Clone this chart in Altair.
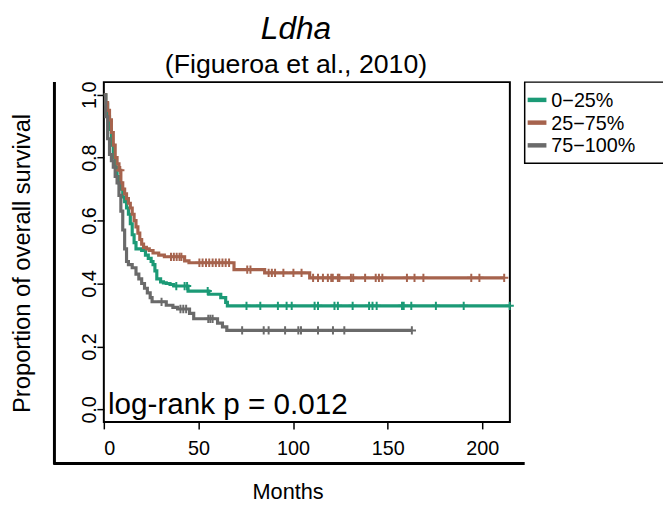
import altair as alt
import pandas as pd

FONT = "Liberation Sans"

groups = ["0−25%", "25−75%", "75−100%"]
colors = ["#1b9a76", "#a6634d", "#6a6a6a"]

# Kaplan-Meier steps: (time in months, survival after the step)
green_t = [0, 1, 2, 3, 4, 5, 6, 7, 8, 9, 10, 11, 12, 13, 14, 15, 16, 17, 20, 22, 23.5, 25, 26, 27, 28, 30, 31.5, 33, 35, 37, 44.5, 55.5, 61.8, 64.4, 65.3]
green_s = [1.0, 0.97, 0.93, 0.89, 0.84, 0.80, 0.77, 0.74, 0.72, 0.70, 0.675, 0.66, 0.64, 0.62, 0.59, 0.555, 0.53, 0.51, 0.505, 0.49, 0.48, 0.47, 0.46, 0.44, 0.415, 0.405, 0.402, 0.40, 0.397, 0.392, 0.376, 0.366, 0.355, 0.34, 0.329]
green_end = 214.5
green_cens = [38.3, 42.7, 44.0, 54.9, 75.4, 82.7, 92.0, 96.6, 99.3, 111.4, 113.2, 121.9, 123.7, 131.5, 140.2, 142.0, 144.2, 157.6, 158.5, 162.5, 175.5, 190.2, 214.5]

brown_t = [0, 1, 2, 3, 4, 5, 6, 7, 8, 9, 10, 11, 12, 13, 14, 15, 16, 17, 18, 19, 20, 21, 22.5, 24, 26, 29, 32, 42.7, 45, 68.8, 85.0, 108.8]
brown_s = [1.0, 0.975, 0.95, 0.92, 0.88, 0.84, 0.80, 0.78, 0.76, 0.72, 0.70, 0.685, 0.67, 0.655, 0.64, 0.62, 0.60, 0.58, 0.56, 0.54, 0.525, 0.515, 0.51, 0.505, 0.497, 0.49, 0.485, 0.472, 0.466, 0.444, 0.434, 0.418]
brown_end = 211.6
brown_cens = [8.7, 35.5, 37.0, 38.5, 40.0, 41.0, 50.5, 52.2, 54.0, 55.7, 57.5, 59.2, 61.0, 62.7, 64.4, 66.2, 75.8, 77.5, 87.1, 88.8, 90.5, 94.9, 100.2, 104.5, 110.6, 113.2, 115.8, 118.4, 120.2, 121.0, 123.7, 124.5, 130.6, 131.8, 138.1, 143.7, 145.4, 147.2, 160.2, 164.2, 168.9, 194.2, 198.5, 211.6]

gray_t = [0, 1, 2, 3, 4, 5, 6, 7, 8, 9, 10, 11, 12, 13, 15, 17, 18.5, 20, 21.5, 23, 24.5, 25.5, 33, 36.5, 39, 45.3, 47.5, 60.1, 62.7, 65.0]
gray_s = [1.0, 0.93, 0.86, 0.81, 0.79, 0.77, 0.74, 0.72, 0.68, 0.63, 0.57, 0.51, 0.47, 0.46, 0.45, 0.43, 0.415, 0.40, 0.385, 0.37, 0.355, 0.342, 0.331, 0.324, 0.319, 0.305, 0.288, 0.274, 0.262, 0.251]
gray_end = 162.8
gray_cens = [30.5, 40.5, 42.0, 43.5, 55.2, 56.3, 57.5, 73.1, 84.5, 87.1, 95.8, 102.8, 104.2, 113.2, 121.1, 127.1, 162.8]

x_ticks = [0, 50, 100, 150, 200]
y_ticks = [0.0, 0.2, 0.4, 0.6, 0.8, 1.0]

series = [
    (groups[0], green_t, green_s, green_end, green_cens),
    (groups[1], brown_t, brown_s, brown_end, brown_cens),
    (groups[2], gray_t, gray_s, gray_end, gray_cens),
]

line_rows, cens_rows = [], []
for g, ts, ss, end, cens in series:
    for i, (t, s) in enumerate(zip(ts, ss)):
        line_rows.append({"group": g, "t": t, "s": s, "o": i})
    line_rows.append({"group": g, "t": end, "s": ss[-1], "o": len(ts)})
    for c in cens:
        val = ss[0]
        for t, s in zip(ts, ss):
            if t <= c:
                val = s
        cens_rows.append({"group": g, "t": c, "s": val})

lines_df = pd.DataFrame(line_rows)
cens_df = pd.DataFrame(cens_rows)

xscale = alt.Scale(domain=[0, 214.6], nice=False, zero=False)
yscale = alt.Scale(domain=[-0.04, 1.04], nice=False, zero=False)
cscale = alt.Scale(domain=groups, range=colors)

xaxis = alt.Axis(values=x_ticks, title="Months", grid=False, domain=False,
                 tickSize=7, tickWidth=1.5, tickColor="black",
                 labelFontSize=20, labelFont=FONT, labelColor="black", labelPadding=10,
                 titleFont=FONT, titleFontSize=22, titleFontWeight="normal", titleColor="black",
                 titleX=186, titleY=70, titleBaseline="middle", titleAlign="center")
yaxis = alt.Axis(values=y_ticks, format=".1f", title="Proportion of overall survival",
                 grid=False, domain=False, tickSize=7, tickWidth=1.5, tickColor="black",
                 labelFontSize=20, labelFont=FONT, labelColor="black", labelAngle=270,
                 labelAlign="center", labelBaseline="alphabetic", labelPadding=1,
                 titleFont=FONT, titleFontSize=24, titleFontWeight="normal", titleColor="black",
                 titleAngle=270, titleX=-82, titleY=183, titleBaseline="middle", titleAlign="center")

lines = alt.Chart(lines_df).mark_line(interpolate="step-after", strokeWidth=3.2).encode(
    x=alt.X("t:Q", scale=xscale, axis=xaxis),
    y=alt.Y("s:Q", scale=yscale, axis=yaxis),
    color=alt.Color("group:N", scale=cscale, legend=None),
    detail="group:N",
    order="o:Q",
)

cens = alt.Chart(cens_df).mark_point(
    shape="M-1,0L1,0M0,-1L0,1", filled=False, strokeWidth=2, size=70, opacity=1
).encode(
    x=alt.X("t:Q", scale=xscale),
    y=alt.Y("s:Q", scale=yscale),
    color=alt.Color("group:N", scale=cscale, legend=None),
)

note = alt.Chart(pd.DataFrame({"a": [0]})).mark_text(
    text="log-rank p = 0.012", align="left", baseline="alphabetic",
    font=FONT, fontSize=30, color="black"
).encode(x=alt.datum(2.2), y=alt.datum(-0.015))

vline = alt.Chart(pd.DataFrame({"a": [0]})).mark_rule(color="black", strokeWidth=3).encode(
    x=alt.value(-50), y=alt.value(0), y2=alt.value(387))
hline = alt.Chart(pd.DataFrame({"a": [0]})).mark_rule(color="black", strokeWidth=3).encode(
    x=alt.value(-51), x2=alt.value(426), y=alt.value(386))

# legend drawn as a boxed key to the right of the plot (R-style)
legend_box = alt.Chart(pd.DataFrame({"a": [0]})).mark_rect(
    fill="white", stroke="black", strokeWidth=1.5
).encode(x=alt.value(426), x2=alt.value(580), y=alt.value(0), y2=alt.value(82))

legend_layers = []
row_y = [18, 41, 64]
for g, ry in zip(groups, row_y):
    gdf = pd.DataFrame({"group": [g]})
    legend_layers.append(
        alt.Chart(gdf).mark_rule(strokeWidth=4.5).encode(
            x=alt.value(429), x2=alt.value(448), y=alt.value(ry),
            color=alt.Color("group:N", scale=cscale, legend=None)))
    legend_layers.append(
        alt.Chart(gdf).mark_text(align="left", baseline="middle", font=FONT,
                                 fontSize=20, color="black").encode(
            x=alt.value(453), y=alt.value(ry + 1), text="group:N"))

chart = alt.layer(vline, hline, lines, cens, note, legend_box, *legend_layers).properties(
    width=411, height=344,
    background="white",
    autosize=alt.AutoSizeParams(type="none"),
    padding={"left": 97, "top": 72, "right": 155, "bottom": 80},
    title=alt.TitleParams(
        text="Ldha", subtitle="(Figueroa et al., 2010)",
        font=FONT, fontSize=32, fontStyle="italic", fontWeight="normal", color="black",
        subtitleFont=FONT, subtitleFontSize=27, subtitleFontStyle="normal", subtitleColor="black",
        subtitlePadding=6, anchor="middle", frame="group", dx=-11, offset=2),
).configure_view(stroke="black", strokeWidth=2, clip=False)

chart.save("out.html", embed_options={"renderer": "svg", "actions": False})
